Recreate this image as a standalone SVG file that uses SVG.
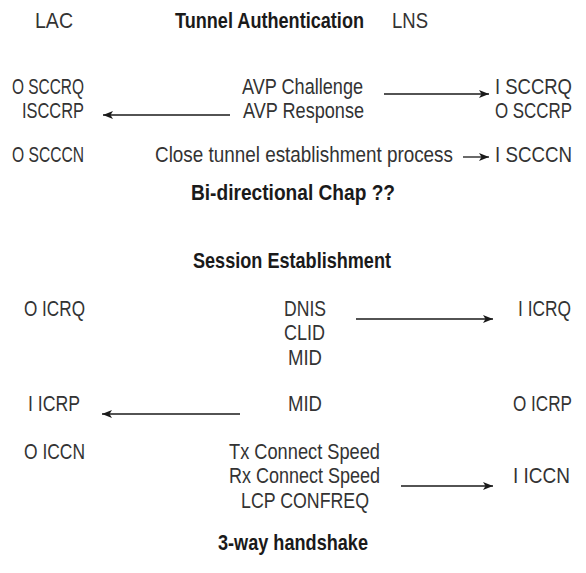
<svg xmlns="http://www.w3.org/2000/svg" width="586" height="573" viewBox="0 0 586 573">
  <style>
    .t { font-family: "Liberation Sans Narrow", "Liberation Sans", "DejaVu Sans Condensed", sans-serif; font-size: 22px; fill: #333333; text-anchor: middle; }
    .h { font-family: "Liberation Sans Narrow", "Liberation Sans", "DejaVu Sans Condensed", sans-serif; font-size: 22px; font-weight: bold; fill: #1a1a1a; text-anchor: middle; }
    .c { stroke: #1a1a1a; stroke-width: 1.3; fill: none; marker-end: url(#ah); }
  </style>
  <defs>
    <marker id="ah" viewBox="0 0 10 8" refX="10" refY="4" markerWidth="10" markerHeight="8" markerUnits="userSpaceOnUse" orient="auto">
      <path d="M0,0 L10,4 L0,8 L2.5,4 Z" fill="#1a1a1a"/>
    </marker>
  </defs>

  <rect width="586" height="573" fill="#ffffff"/>

  <!-- headings -->
  <g id="lac"><text class="t" x="54" y="28" textLength="38" lengthAdjust="spacingAndGlyphs">LAC</text></g>
  <g id="tunnel-auth"><text class="h" x="269.5" y="28" textLength="189" lengthAdjust="spacingAndGlyphs">Tunnel Authentication</text></g>
  <g id="lns"><text class="t" x="410" y="28" textLength="36" lengthAdjust="spacingAndGlyphs">LNS</text></g>

  <!-- tunnel messages -->
  <g id="lac-sccrq">
    <text class="t" x="48" y="94" textLength="72" lengthAdjust="spacingAndGlyphs">O SCCRQ</text>
    <text class="t" x="53" y="118" textLength="62" lengthAdjust="spacingAndGlyphs">ISCCRP</text>
  </g>
  <g id="avp">
    <text class="t" x="302.5" y="94" textLength="121" lengthAdjust="spacingAndGlyphs">AVP Challenge</text>
    <text class="t" x="303.5" y="118" textLength="121" lengthAdjust="spacingAndGlyphs">AVP Response</text>
  </g>
  <g id="lns-sccrq">
    <text class="t" x="533.5" y="94" textLength="77" lengthAdjust="spacingAndGlyphs">I SCCRQ</text>
    <text class="t" x="533.5" y="118" textLength="77" lengthAdjust="spacingAndGlyphs">O SCCRP</text>
  </g>
  <g id="lac-scccn"><text class="t" x="48" y="162" textLength="72" lengthAdjust="spacingAndGlyphs">O SCCCN</text></g>
  <g id="close-tunnel"><text class="t" x="304" y="162" textLength="298" lengthAdjust="spacingAndGlyphs">Close tunnel establishment process</text></g>
  <g id="lns-scccn"><text class="t" x="533.5" y="162" textLength="77" lengthAdjust="spacingAndGlyphs">I SCCCN</text></g>
  <g id="bichap"><text class="h" x="293" y="200" textLength="204" lengthAdjust="spacingAndGlyphs">Bi-directional Chap ??</text></g>

  <!-- session establishment -->
  <g id="session"><text class="h" x="292" y="268" textLength="198" lengthAdjust="spacingAndGlyphs">Session Establishment</text></g>
  <g id="lac-icrq"><text class="t" x="54.5" y="316" textLength="61" lengthAdjust="spacingAndGlyphs">O ICRQ</text></g>
  <g id="icrq-avps">
    <text class="t" x="305" y="316" textLength="42" lengthAdjust="spacingAndGlyphs">DNIS</text>
    <text class="t" x="304.5" y="340" textLength="41" lengthAdjust="spacingAndGlyphs">CLID</text>
    <text class="t" x="305" y="365" textLength="34" lengthAdjust="spacingAndGlyphs">MID</text>
  </g>
  <g id="lns-icrq"><text class="t" x="544.5" y="316" textLength="53" lengthAdjust="spacingAndGlyphs">I ICRQ</text></g>
  <g id="lac-icrp"><text class="t" x="54" y="411" textLength="52" lengthAdjust="spacingAndGlyphs">I ICRP</text></g>
  <g id="icrp-avp"><text class="t" x="305" y="411" textLength="34" lengthAdjust="spacingAndGlyphs">MID</text></g>
  <g id="lns-icrp"><text class="t" x="542.5" y="411" textLength="59" lengthAdjust="spacingAndGlyphs">O ICRP</text></g>
  <g id="lac-iccn"><text class="t" x="54.5" y="459" textLength="61" lengthAdjust="spacingAndGlyphs">O ICCN</text></g>
  <g id="iccn-avps">
    <text class="t" x="304.5" y="459" textLength="151" lengthAdjust="spacingAndGlyphs">Tx Connect Speed</text>
    <text class="t" x="304.5" y="483" textLength="151" lengthAdjust="spacingAndGlyphs">Rx Connect Speed</text>
    <text class="t" x="305" y="508" textLength="128" lengthAdjust="spacingAndGlyphs">LCP CONFREQ</text>
  </g>
  <g id="lns-iccn"><text class="t" x="541.5" y="483" textLength="57" lengthAdjust="spacingAndGlyphs">I ICCN</text></g>
  <g id="handshake"><text class="h" x="293" y="550" textLength="150" lengthAdjust="spacingAndGlyphs">3-way handshake</text></g>

  <!-- connectors -->
  <g id="connectors">
    <line class="c" x1="384" y1="94" x2="489" y2="94"/>
    <line class="c" x1="230" y1="115" x2="103" y2="115"/>
    <line class="c" x1="463" y1="157" x2="489" y2="157"/>
    <line class="c" x1="356" y1="319" x2="493" y2="319"/>
    <line class="c" x1="240" y1="414" x2="102" y2="414"/>
    <line class="c" x1="401" y1="486" x2="493" y2="486"/>
  </g>
</svg>
